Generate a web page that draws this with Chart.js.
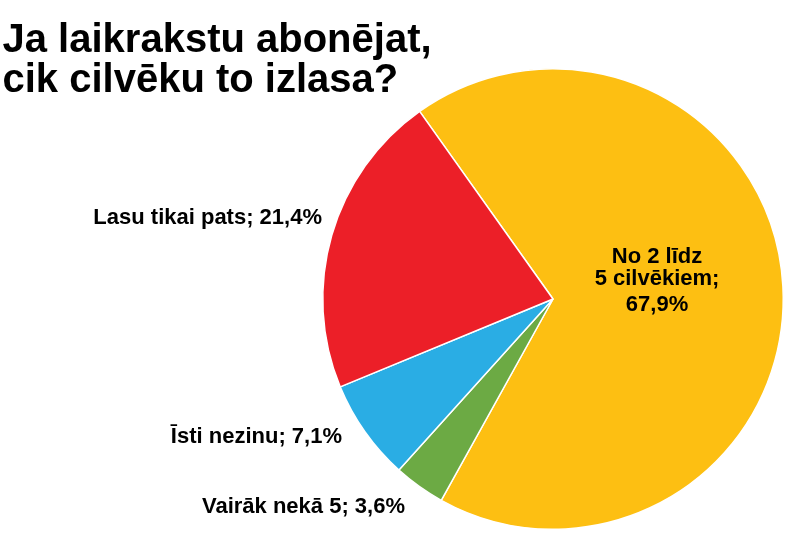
<!DOCTYPE html>
<html>
<head>
<meta charset="utf-8">
<script src="https://cdn.jsdelivr.net/npm/chart.js@4"></script>
<style>
  html, body { margin: 0; padding: 0; background: #ffffff; }
  #wrap { position: relative; width: 787px; height: 534px; }
  canvas { display: block; }
</style>
</head>
<body>
<div id="wrap"><canvas id="c" width="787" height="534" style="width:787px;height:534px"></canvas></div>
<script>
// ---- data ----
const titleLines = ["Ja laikrakstu abonējat,", "cik cilvēku to izlasa?"];
const categories = ["No 2 līdz 5 cilvēkiem", "Vairāk nekā 5", "Īsti nezinu", "Lasu tikai pats"];
const values = [67.9, 3.6, 7.1, 21.4];
const colors = ["#FDBF12", "#6CAA44", "#2AADE4", "#EC1F28"];

function fmt(v) { return v.toFixed(1).replace(".", ","); }

const FONT = "bold 22px 'Liberation Sans', Arial, sans-serif";
const TITLE_FONT = "bold 40px 'Liberation Sans', Arial, sans-serif";

const textPlugin = {
  id: 'textPlugin',
  afterDraw(chart) {
    const ctx = chart.ctx;
    ctx.save();
    ctx.fillStyle = "#000000";
    ctx.textBaseline = "alphabetic";
    // title
    ctx.font = TITLE_FONT;
    ctx.textAlign = "left";
    ctx.fillText(titleLines[0], 2.5, 52);
    ctx.fillText(titleLines[1], 2.5, 92);

    ctx.font = FONT;
    // big slice label (inside)
    ctx.textAlign = "center";
    const inner = ["No 2 līdz", "5 cilvēkiem;", fmt(values[0]) + "%"];
    ctx.fillText(inner[0], 657, 263);
    ctx.fillText(inner[1], 657, 285);
    ctx.fillText(inner[2], 657, 311);

    // outside labels, right aligned
    ctx.textAlign = "right";
    ctx.fillText(categories[3] + "; " + fmt(values[3]) + "%", 322, 224);
    ctx.fillText(categories[2] + "; " + fmt(values[2]) + "%", 342, 443);
    ctx.fillText(categories[1] + "; " + fmt(values[1]) + "%", 405, 513);
    ctx.restore();
  }
};

new Chart(document.getElementById('c'), {
  type: 'pie',
  data: {
    labels: categories,
    datasets: [{
      data: values,
      backgroundColor: colors,
      borderColor: "#ffffff",
      borderWidth: 1.5
    }]
  },
  options: {
    responsive: false,
    animation: false,
    rotation: -35.4,
    layout: { padding: { left: 322, top: 68, right: 3, bottom: 4 } },
    plugins: {
      legend: { display: false },
      tooltip: { enabled: false },
      title: { display: false }
    }
  },
  plugins: [textPlugin]
});
</script>
</body>
</html>
